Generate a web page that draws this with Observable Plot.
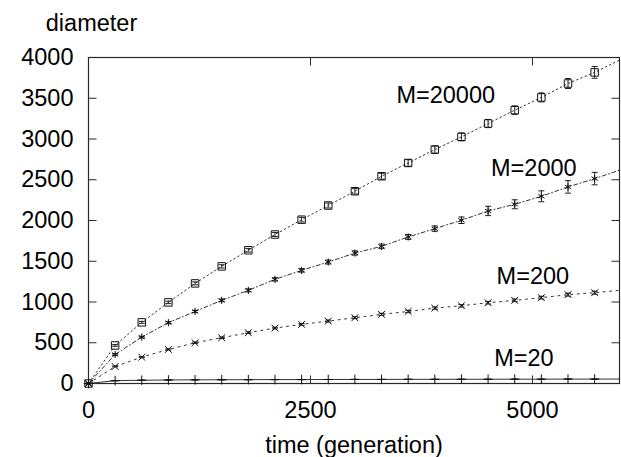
<!DOCTYPE html>
<html>
<head>
<meta charset="utf-8">
<script src="https://cdn.jsdelivr.net/npm/d3@7"></script>
<script src="https://cdn.jsdelivr.net/npm/@observablehq/plot@0.6"></script>
<style>
  html, body { margin: 0; padding: 0; background: #fff; }
  #chart svg { display: block; font-family: "Liberation Sans", Arial, sans-serif; }
</style>
</head>
<body>
<div id="chart"></div>
<script>
// ---- data ----
const times = [0, 300, 600, 900, 1200, 1500, 1800, 2100, 2400, 2700, 3000, 3300, 3600, 3900, 4200, 4500, 4800, 5100, 5400, 5700];
const m20000 = [0, 467, 750, 995, 1228, 1437, 1635, 1828, 2010, 2184, 2359, 2543, 2706, 2870, 3026, 3190, 3354, 3510, 3681, 3817];
const m2000  = [0, 356, 569, 746, 884, 1020, 1143, 1278, 1388, 1490, 1601, 1683, 1798, 1900, 2003, 2117, 2199, 2297, 2412, 2514];
const m200   = [0, 209, 323, 418, 500, 561, 623, 680, 725, 766, 807, 848, 884, 925, 954, 991, 1020, 1053, 1090, 1114];
const m20    = [0, 35, 40, 43, 45, 46, 47, 48, 48, 49, 50, 50, 51, 51, 52, 52, 53, 53, 54, 54];
const err20000 = [0, 10, 12, 15, 18, 20, 22, 25, 28, 30, 33, 36, 40, 44, 48, 50, 52, 55, 61, 72];
const err2000  = [0, 8, 10, 12, 14, 16, 18, 20, 22, 24, 26, 28, 30, 33, 40, 57, 55, 67, 77, 76];
const err200   = [0, 5, 6, 7, 8, 9, 10, 10, 11, 12, 12, 13, 14, 14, 15, 16, 16, 17, 18, 19];
const err20    = [0, 1, 1, 1, 1, 1, 1, 1, 1, 1, 1, 1, 1, 1, 1, 1, 1, 1, 1, 1];
const lineEndTime = 5980;
const lineEnd = {"M=20000": 3968, "M=2000": 2617, "M=200": 1143, "M=20": 55};
const seriesNames = ["M=20000", "M=2000", "M=200", "M=20"];
const labelX = [4023, 5015, 5004, 4903];
const labelY = [3534, 2638, 1313, 307];
const xTicks = [0, 2500, 5000];
const yTicks = [0, 500, 1000, 1500, 2000, 2500, 3000, 3500, 4000];

// ---- build tables ----
const values = [m20000, m2000, m200, m20];
const errs = [err20000, err2000, err200, err20];
const symbols = ["square", "asterisk", "times", "plus"];
const sizes = [4.2, 3.4, 3.2, 3.2];
const dashes = ["1.5,3", "4,2.5,1,2.5", "2,4.5", null];

const points = [];
seriesNames.forEach((s, i) => times.forEach((t, j) => points.push({series: s, t, v: values[i][j], e: errs[i][j]})));
const lines = seriesNames.map((s, i) => times.map((t, j) => ({t, v: values[i][j]})).concat([{t: lineEndTime, v: lineEnd[s]}]));
const labels = seriesNames.map((s, i) => ({s, x: labelX[i], y: labelY[i]}));

// ---- custom symbols ----
const cap = {draw(ctx) { ctx.moveTo(-3, 0); ctx.lineTo(3, 0); }};
const tickIn = (dx, dy) => ({draw(ctx) { ctx.moveTo(0, 0); ctx.lineTo(dx, dy); }});

const FS = 23.5;
const ink = "#2a2a2a";

const marks = [
  Plot.frame({stroke: ink, strokeWidth: 1.2}),
  Plot.dot(yTicks, {y: d => d, frameAnchor: "left", symbol: tickIn(8, 0), stroke: ink, strokeWidth: 1}),
  Plot.dot(yTicks, {y: d => d, frameAnchor: "right", symbol: tickIn(-8, 0), stroke: ink, strokeWidth: 1}),
  Plot.dot(xTicks, {x: d => d, frameAnchor: "bottom", symbol: tickIn(0, -8), stroke: ink, strokeWidth: 1}),
  Plot.dot(xTicks, {x: d => d, frameAnchor: "top", symbol: tickIn(0, 8), stroke: ink, strokeWidth: 1}),
  Plot.axisX(xTicks, {tickSize: 0, tickPadding: 18, fontSize: FS, tickFormat: d => String(d), label: null, fill: "#000"}),
  Plot.axisY(yTicks, {tickSize: 0, tickPadding: 15, fontSize: FS, tickFormat: d => String(d), label: null, fill: "#000"}),
];

seriesNames.forEach((s, i) => {
  marks.push(Plot.line(lines[i], {x: "t", y: "v", stroke: "#333", strokeWidth: 1, strokeDasharray: dashes[i] || undefined}));
  const pts = points.filter(p => p.series === s);
  const ep = pts.filter(p => p.e > 0);
  marks.push(Plot.ruleX(ep, {x: "t", y1: p => p.v - p.e, y2: p => p.v + p.e, stroke: "#222", strokeWidth: 1}));
  marks.push(Plot.dot(ep, {x: "t", y: p => p.v + p.e, symbol: cap, stroke: "#222", strokeWidth: 1}));
  marks.push(Plot.dot(ep, {x: "t", y: p => p.v - p.e, symbol: cap, stroke: "#222", strokeWidth: 1}));
  marks.push(Plot.dot(pts, {x: "t", y: "v", symbol: symbols[i], r: sizes[i], stroke: "#111", strokeWidth: 1, fill: "none"}));
});

marks.push(Plot.text(labels, {x: "x", y: "y", text: "s", fontSize: FS, fill: "#000"}));
marks.push(Plot.text(["time (generation)"], {frameAnchor: "bottom", lineAnchor: "middle", dy: 62, text: d => d, fontSize: FS, fill: "#000"}));
marks.push(Plot.text(["diameter"], {frameAnchor: "top-left", lineAnchor: "middle", dx: 3, dy: -34, text: d => d, fontSize: FS, fill: "#000", textAnchor: "middle"}));

const chart = Plot.plot({
  width: 621,
  height: 457,
  marginLeft: 88,
  marginRight: 2,
  marginTop: 57,
  marginBottom: 74,
  x: {domain: [0, lineEndTime]},
  y: {domain: [0, 4000]},
  style: {fontFamily: '"Liberation Sans", Arial, sans-serif', background: "#fff", overflow: "visible"},
  marks
});
document.getElementById("chart").appendChild(chart);
</script>
</body>
</html>
